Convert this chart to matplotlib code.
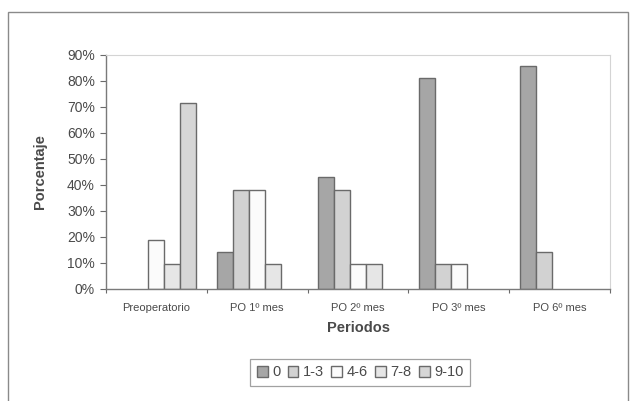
import numpy as np
import matplotlib.pyplot as plt
from matplotlib.patches import Rectangle
from matplotlib.ticker import FuncFormatter

plt.rcParams['font.family'] = ['Liberation Sans', 'DejaVu Sans']

# Porcentaje de pacientes por rango de dolor en cada periodo
periodos = ['Preoperatorio', 'PO 1º mes', 'PO 2º mes', 'PO 3º mes', 'PO 6º mes']
rangos = ['0', '1-3', '4-6', '7-8', '9-10']
v_0 = [0, 14.3, 42.9, 81.0, 85.7]
v_1_3 = [0, 38.1, 38.1, 9.5, 14.3]
v_4_6 = [19.0, 38.1, 9.5, 9.5, 0]
v_7_8 = [9.5, 9.5, 9.5, 0, 0]
v_9_10 = [71.4, 0, 0, 0, 0]
series = [v_0, v_1_3, v_4_6, v_7_8, v_9_10]

colores = ['#a6a6a6', '#d2d2d2', '#fbfbfb', '#e6e6e6', '#d6d6d6']
texto = '#4a4a4a'
borde = '#6a6a6a'

fig = plt.figure(figsize=(6.31, 4.01), dpi=100)
ax = fig.add_axes([106 / 631, 1 - 289 / 401, 504 / 631, 234 / 401])

# marco exterior del gráfico
fig.patches.append(Rectangle((8 / 631, -0.05), 620 / 631, 1.05 - 12 / 401,
                             transform=fig.transFigure, fill=False,
                             edgecolor='#8a8a8a', linewidth=1.0))

x = np.arange(len(periodos))
ancho = 0.159
for i, (nombre, vals) in enumerate(zip(rangos, series)):
    alturas = np.array(vals, dtype=float)
    alturas[alturas == 0] = np.nan  # sin barra cuando no hay pacientes
    ax.bar(x + (i - 2) * ancho, alturas, width=ancho, color=colores[i],
           edgecolor=borde, linewidth=1.0, label=nombre)

ax.set_xlim(-0.5, len(periodos) - 0.5)
ax.set_ylim(0, 90)
ax.set_yticks(np.arange(0, 91, 10))
ax.yaxis.set_major_formatter(FuncFormatter(lambda v, p: f'{int(v)}%'))
ax.tick_params(axis='y', labelsize=10, colors=borde, labelcolor=texto,
               length=4, width=0.8, pad=4)

# marcas entre categorías y etiquetas en el centro
ax.set_xticks(np.arange(-0.5, len(periodos), 1.0))
ax.set_xticklabels([])
ax.tick_params(axis='x', which='major', length=3, width=0.8, colors=borde)
ax.set_xticks(x, minor=True)
ax.set_xticklabels(periodos, minor=True, fontsize=8, color=texto)
ax.tick_params(axis='x', which='minor', length=0, pad=10)

for lado in ['left', 'bottom']:
    ax.spines[lado].set_color('#7a7a7a')
    ax.spines[lado].set_linewidth(1.0)
for lado in ['top', 'right']:
    ax.spines[lado].set_color('#d4d4d4')
    ax.spines[lado].set_linewidth(0.8)

ax.set_ylabel('Porcentaje', fontsize=10.5, fontweight='bold', color=texto,
              labelpad=14)
ax.set_xlabel('Periodos', fontsize=10.5, fontweight='bold', color=texto,
              labelpad=6)

leg = ax.legend(loc='center', bbox_to_anchor=(0.504, -0.356), ncol=5,
                fontsize=10.5, frameon=True, fancybox=False,
                handlelength=0.75, handleheight=0.75, handletextpad=0.3,
                columnspacing=0.5, borderpad=0.45, labelcolor=texto)
leg.get_frame().set_edgecolor('#8a8a8a')
leg.get_frame().set_linewidth(0.9)

fig.savefig('out.png', dpi=100)
